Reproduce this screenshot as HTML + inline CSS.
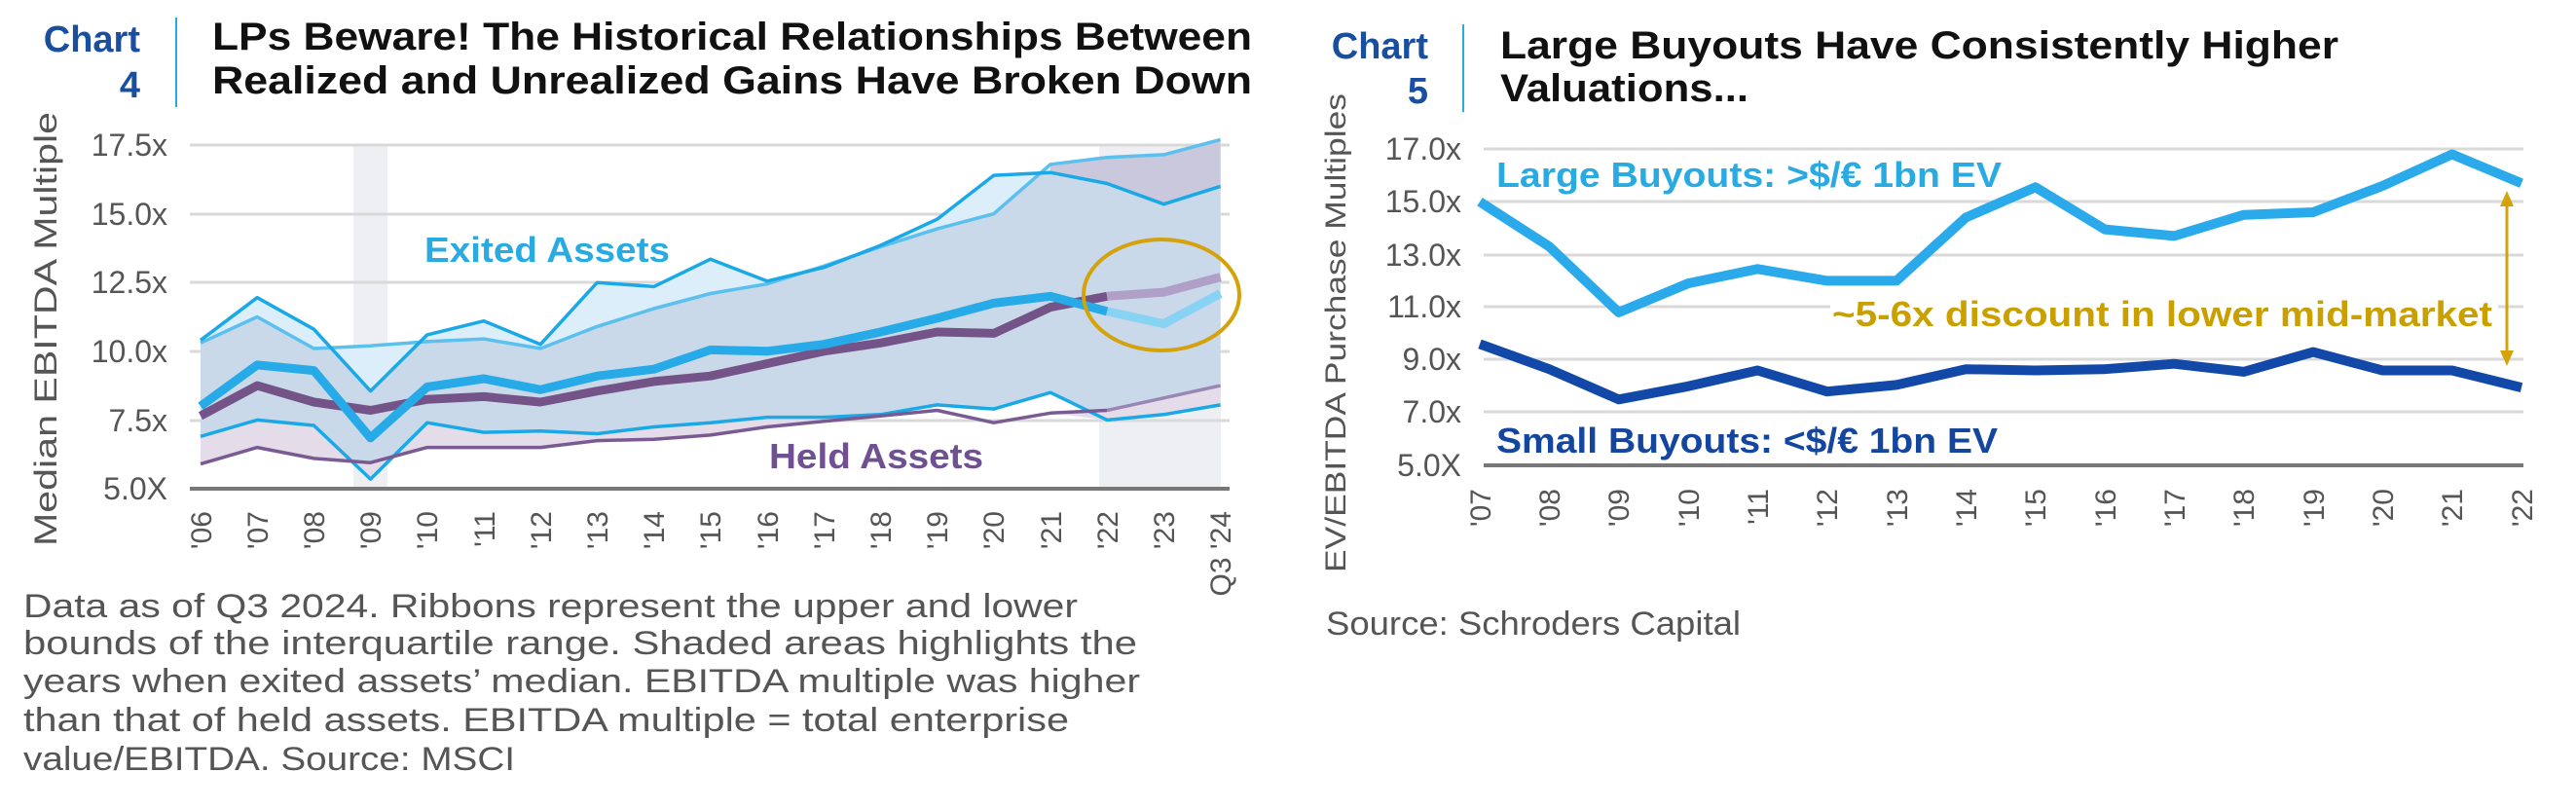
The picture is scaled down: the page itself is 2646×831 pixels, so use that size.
<!DOCTYPE html>
<html><head><meta charset="utf-8"><style>
html,body{margin:0;padding:0;background:#fff;}
svg{display:block;font-family:"Liberation Sans",sans-serif;}
</style></head><body>
<svg width="2646" height="831" viewBox="0 0 2646 831" xmlns="http://www.w3.org/2000/svg">
<!-- LEFT HEADER -->
<text x="144" y="53" font-size="38" font-weight="bold" fill="#1a4fa0" text-anchor="end">Chart</text>
<text x="144" y="100" font-size="38" font-weight="bold" fill="#1a4fa0" text-anchor="end">4</text>
<line x1="181" y1="18" x2="181" y2="110" stroke="#29abe2" stroke-width="2"/>
<text x="218" y="51" font-size="40" font-weight="bold" fill="#111" textLength="1068" lengthAdjust="spacingAndGlyphs">LPs Beware! The Historical Relationships Between</text>
<text x="218" y="96" font-size="40" font-weight="bold" fill="#111" textLength="1068" lengthAdjust="spacingAndGlyphs">Realized and Unrealized Gains Have Broken Down</text>

<rect x="363" y="149" width="35" height="353" fill="#eeeff3"/>
<rect x="1129" y="149" width="125" height="353" fill="#eeeff3"/>
<g stroke="#d9d9d9" stroke-width="3">
<line x1="195" y1="149" x2="1263" y2="149"/><line x1="195" y1="220" x2="1263" y2="220"/>
<line x1="195" y1="290" x2="1263" y2="290"/><line x1="195" y1="361" x2="1263" y2="361"/>
<line x1="195" y1="432" x2="1263" y2="432"/></g>
<polygon fill="#c9d9ea" points="206,352.3 264.2,325.5 322.4,358 380.6,355.2 438.8,350.9 497,348.1 555.2,358 613.4,335.4 671.6,317 729.8,301.5 788,291.6 846.2,273.3 904.4,253.5 962.6,235.1 1020.8,219.6 1079,168.8 1137.2,161.7 1195.4,158.9 1253.6,143.4 1253.6,415.9 1195.4,425.8 1137.2,431.4 1079,403.2 1020.8,420.1 962.6,415.9 904.4,425.8 846.2,428.6 788,428.6 729.8,434.2 671.6,438.5 613.4,445.5 555.2,442.7 497,444.1 438.8,434.2 380.6,492.1 322.4,437 264.2,431.4 206,448.3"/>
<polygon fill="#dceef9" points="206,349.5 264.2,305.7 322.4,338.2 380.6,401.7 438.8,343.9 497,329.7 555.2,353.7 613.4,290.2 671.6,294.4 729.8,266.2 788,288.8 846.2,274.7 904.4,252.1 962.6,225.2 1020.8,180.1 1079,177.2 1079,168.8 1020.8,219.6 962.6,235.1 904.4,253.5 846.2,273.3 788,291.6 729.8,301.5 671.6,317 613.4,335.4 555.2,358 497,348.1 438.8,350.9 380.6,355.2 322.4,358 264.2,325.5 206,352.3"/>
<polygon fill="#c9c3d8" opacity="0.8" points="1079,177.2 1137.2,188.5 1195.4,209.7 1253.6,191.4 1253.6,143.4 1195.4,158.9 1137.2,161.7 1079,168.8"/>
<polygon fill="#e4dde9" points="206,448.3 264.2,431.4 322.4,437 380.6,492.1 438.8,434.2 497,444.1 555.2,442.7 613.4,445.5 671.6,438.5 729.8,434.2 788,428.6 846.2,428.6 904.4,425.8 962.6,421.5 1020.8,434.2 1079,424.3 1137.2,421.5 1195.4,408.8 1253.6,396.1 1253.6,415.9 1195.4,425.8 1137.2,431.4 1079,424.3 1020.8,434.2 962.6,421.5 904.4,427.2 846.2,432.8 788,438.5 729.8,446.9 671.6,451.2 613.4,452.6 555.2,459.6 497,459.6 438.8,459.6 380.6,475.2 322.4,470.9 264.2,459.6 206,476.6"/>
<g fill="none" stroke-width="3.5" stroke-linejoin="round">
<polyline stroke="#5bc0ee" points="206,352.3 264.2,325.5 322.4,358 380.6,355.2 438.8,350.9 497,348.1 555.2,358 613.4,335.4 671.6,317 729.8,301.5 788,291.6 846.2,273.3 904.4,253.5 962.6,235.1 1020.8,219.6 1079,168.8 1137.2,161.7 1195.4,158.9 1253.6,143.4"/>
<polyline stroke="#1aa9e6" points="206,349.5 264.2,305.7 322.4,338.2 380.6,401.7 438.8,343.9 497,329.7 555.2,353.7 613.4,290.2 671.6,294.4 729.8,266.2 788,288.8 846.2,274.7 904.4,252.1 962.6,225.2 1020.8,180.1 1079,177.2 1137.2,188.5 1195.4,209.7 1253.6,191.4"/>
<polyline stroke="#1aa9e6" points="206,448.3 264.2,431.4 322.4,437 380.6,492.1 438.8,434.2 497,444.1 555.2,442.7 613.4,445.5 671.6,438.5 729.8,434.2 788,428.6 846.2,428.6 904.4,425.8 962.6,415.9 1020.8,420.1 1079,403.2 1137.2,431.4 1195.4,425.8 1253.6,415.9"/>
<polyline stroke="#7a5a92" points="206,476.6 264.2,459.6 322.4,470.9 380.6,475.2 438.8,459.6 497,459.6 555.2,459.6 613.4,452.6 671.6,451.2 729.8,446.9 788,438.5 846.2,432.8 904.4,427.2 962.6,421.5 1020.8,434.2 1079,424.3 1137.2,421.5"/>
<polyline stroke="#9a86b5" points="1137.2,421.5 1195.4,408.8 1253.6,396.1"/>
</g>
<g fill="none" stroke-width="9" stroke-linejoin="round">
<polyline stroke="#745488" points="206,427.2 264.2,396.1 322.4,413 380.6,421.5 438.8,410.2 497,407.4 555.2,413 613.4,401.7 671.6,391.9 729.8,386.2 788,373.5 846.2,360.8 904.4,352.3 962.6,341 1020.8,342.4 1079,315.6 1137.2,304.3"/>
<polyline stroke="#b09fc6" points="1137.2,304.3 1195.4,300.1 1253.6,284.6"/>
<polyline stroke="#26aae8" points="206,417.3 264.2,374.9 322.4,380.6 380.6,449.8 438.8,397.5 497,389 555.2,400.3 613.4,386.2 671.6,379.2 729.8,359.4 788,360.8 846.2,353.7 904.4,341 962.6,326.9 1020.8,311.4 1079,304.3 1137.2,319.9"/>
<polyline stroke="#88d2f4" points="1137.2,319.9 1195.4,332.6 1253.6,301.5"/>
</g>
<ellipse cx="1193" cy="303" rx="80" ry="57" fill="none" stroke="#d4a20a" stroke-width="4"/>
<line x1="195" y1="502" x2="1263" y2="502" stroke="#777" stroke-width="4"/>
<text x="436" y="269" font-size="36" font-weight="bold" fill="#29abe2" textLength="252" lengthAdjust="spacingAndGlyphs">Exited Assets</text>
<text x="790" y="481" font-size="36" font-weight="bold" fill="#6f5191" textLength="220" lengthAdjust="spacingAndGlyphs">Held Assets</text>
<g font-size="32" fill="#555" text-anchor="end">
<text x="172" y="160">17.5x</text><text x="172" y="231">15.0x</text><text x="172" y="301">12.5x</text>
<text x="172" y="372">10.0x</text><text x="172" y="443">7.5x</text><text x="172" y="513">5.0X</text></g>
<text transform="translate(58,338) rotate(-90)" font-size="32" fill="#555" text-anchor="middle" textLength="446" lengthAdjust="spacingAndGlyphs">Median EBITDA Multiple</text>
<g font-size="30" fill="#555" text-anchor="end">
<text transform="translate(217,525) rotate(-90)">'06</text><text transform="translate(275,525) rotate(-90)">'07</text>
<text transform="translate(333,525) rotate(-90)">'08</text><text transform="translate(391,525) rotate(-90)">'09</text>
<text transform="translate(449,525) rotate(-90)">'10</text><text transform="translate(508,525) rotate(-90)">'11</text>
<text transform="translate(566,525) rotate(-90)">'12</text><text transform="translate(624,525) rotate(-90)">'13</text>
<text transform="translate(682,525) rotate(-90)">'14</text><text transform="translate(740,525) rotate(-90)">'15</text>
<text transform="translate(799,525) rotate(-90)">'16</text><text transform="translate(857,525) rotate(-90)">'17</text>
<text transform="translate(915,525) rotate(-90)">'18</text><text transform="translate(973,525) rotate(-90)">'19</text>
<text transform="translate(1031,525) rotate(-90)">'20</text><text transform="translate(1090,525) rotate(-90)">'21</text>
<text transform="translate(1148,525) rotate(-90)">'22</text><text transform="translate(1206,525) rotate(-90)">'23</text>
<text transform="translate(1264,525) rotate(-90)">Q3 '24</text></g>
<g font-size="34" fill="#555">
<text x="24" y="634" textLength="1083" lengthAdjust="spacingAndGlyphs">Data as of Q3 2024. Ribbons represent the upper and lower</text>
<text x="24" y="672" textLength="1144" lengthAdjust="spacingAndGlyphs">bounds of the interquartile range. Shaded areas highlights the</text>
<text x="24" y="711" textLength="1147" lengthAdjust="spacingAndGlyphs">years when exited assets’ median. EBITDA multiple was higher</text>
<text x="24" y="751" textLength="1074" lengthAdjust="spacingAndGlyphs">than that of held assets. EBITDA multiple = total enterprise</text>
<text x="24" y="791" textLength="505" lengthAdjust="spacingAndGlyphs">value/EBITDA. Source: MSCI</text></g>

<!-- RIGHT -->
<text x="1467" y="60" font-size="38" font-weight="bold" fill="#1a4fa0" text-anchor="end">Chart</text>
<text x="1467" y="106" font-size="38" font-weight="bold" fill="#1a4fa0" text-anchor="end">5</text>
<line x1="1503" y1="25" x2="1503" y2="115" stroke="#29abe2" stroke-width="2"/>
<text x="1541" y="60" font-size="40" font-weight="bold" fill="#111" textLength="861" lengthAdjust="spacingAndGlyphs">Large Buyouts Have Consistently Higher</text>
<text x="1541" y="104" font-size="40" font-weight="bold" fill="#111" textLength="255" lengthAdjust="spacingAndGlyphs">Valuations...</text>
<g stroke="#d9d9d9" stroke-width="3">
<line x1="1524" y1="153" x2="2592" y2="153"/><line x1="1524" y1="207" x2="2592" y2="207"/>
<line x1="1524" y1="262" x2="2592" y2="262"/><line x1="1524" y1="315" x2="2592" y2="315"/>
<line x1="1524" y1="369" x2="2592" y2="369"/><line x1="1524" y1="423" x2="2592" y2="423"/></g>
<line x1="1524" y1="478" x2="2592" y2="478" stroke="#777" stroke-width="4"/>
<g fill="none" stroke-width="10" stroke-linejoin="round">
<polyline stroke="#2aaaea" points="1520,207.2 1591.3,253.2 1662.7,320.9 1734,291.1 1805.3,276.3 1876.7,288.4 1948,288.4 2019.3,223.4 2090.7,192.3 2162,235.6 2233.3,242.4 2304.7,220.7 2376,218 2447.3,190.9 2518.7,158.5 2590,188.2"/>
<polyline stroke="#1249a8" points="1520,353.4 1591.3,379.2 1662.7,410.3 1734,396.8 1805.3,380.5 1876.7,402.2 1948,395.4 2019.3,379.2 2090.7,380.5 2162,379.2 2233.3,373.7 2304.7,381.9 2376,361.6 2447.3,380.5 2518.7,380.5 2590,398.1"/>
</g>
<rect x="1880" y="300" width="686" height="44" fill="#fff"/>
<text x="1537" y="192" font-size="36" font-weight="bold" fill="#29abe2" textLength="519" lengthAdjust="spacingAndGlyphs">Large Buyouts: &gt;$/€ 1bn EV</text>
<text x="1537" y="465" font-size="36" font-weight="bold" fill="#1446a0" textLength="515" lengthAdjust="spacingAndGlyphs">Small Buyouts: &lt;$/€ 1bn EV</text>
<text x="1882" y="335" font-size="36" font-weight="bold" fill="#c9a000" textLength="678" lengthAdjust="spacingAndGlyphs">~5-6x discount in lower mid-market</text>
<line x1="2575" y1="206" x2="2575" y2="366" stroke="#d4a20a" stroke-width="3"/>
<polygon points="2575,196 2568,212 2582,212" fill="#d4a20a"/>
<polygon points="2575,376 2568,360 2582,360" fill="#d4a20a"/>
<g font-size="32" fill="#555" text-anchor="end">
<text x="1501" y="164">17.0x</text><text x="1501" y="218">15.0x</text><text x="1501" y="273">13.0x</text>
<text x="1501" y="326">11.0x</text><text x="1501" y="380">9.0x</text><text x="1501" y="434">7.0x</text><text x="1501" y="489">5.0X</text></g>
<text transform="translate(1382,342) rotate(-90)" font-size="30" fill="#555" text-anchor="middle" textLength="492" lengthAdjust="spacingAndGlyphs">EV/EBITDA Purchase Multiples</text>
<g font-size="30" fill="#555" text-anchor="end">
<text transform="translate(1531,502) rotate(-90)">'07</text><text transform="translate(1602,502) rotate(-90)">'08</text>
<text transform="translate(1673,502) rotate(-90)">'09</text><text transform="translate(1745,502) rotate(-90)">'10</text>
<text transform="translate(1816,502) rotate(-90)">'11</text><text transform="translate(1887,502) rotate(-90)">'12</text>
<text transform="translate(1959,502) rotate(-90)">'13</text><text transform="translate(2030,502) rotate(-90)">'14</text>
<text transform="translate(2101,502) rotate(-90)">'15</text><text transform="translate(2173,502) rotate(-90)">'16</text>
<text transform="translate(2244,502) rotate(-90)">'17</text><text transform="translate(2315,502) rotate(-90)">'18</text>
<text transform="translate(2387,502) rotate(-90)">'19</text><text transform="translate(2458,502) rotate(-90)">'20</text>
<text transform="translate(2529,502) rotate(-90)">'21</text><text transform="translate(2601,502) rotate(-90)">'22</text></g>
<text x="1362" y="652" font-size="34" fill="#555" textLength="426" lengthAdjust="spacingAndGlyphs">Source: Schroders Capital</text>
</svg>
</body></html>
